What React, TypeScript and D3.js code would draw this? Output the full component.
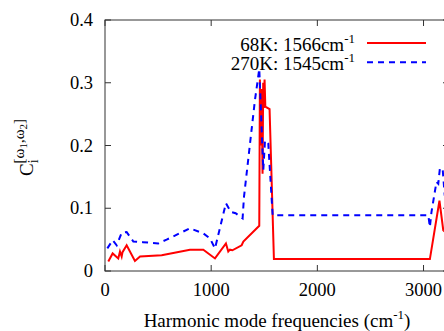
import React from "react";
import * as d3 from "d3";

const W = 444;
const H = 331;

const xTicks = [0, 1000, 2000, 3000];
const yTicks = [0, 0.1, 0.2, 0.3, 0.4];
const yTickLabels = ["0", "0.1", "0.2", "0.3", "0.4"];

const redX = [31, 72, 125, 141, 157, 165, 204, 282, 330, 534, 800, 926, 1036, 1139, 1161, 1177, 1200, 1287, 1303, 1453, 1459, 1466, 1475, 1484, 1490, 1496, 1503, 1510, 1550, 1591, 3060, 3150, 3186, 3220];
const redY = [0.015, 0.028, 0.020, 0.031, 0.023, 0.030, 0.041, 0.016, 0.023, 0.025, 0.034, 0.034, 0.020, 0.044, 0.031, 0.034, 0.033, 0.041, 0.047, 0.072, 0.305, 0.20, 0.29, 0.155, 0.30, 0.26, 0.305, 0.262, 0.258, 0.019, 0.019, 0.112, 0.065, 0.06];

const blueX = [22, 72, 110, 157, 204, 267, 355, 502, 580, 800, 926, 989, 1036, 1139, 1186, 1230, 1296, 1309, 1412, 1453, 1470, 1491, 1507, 1538, 1579, 3045, 3060, 3075, 3122, 3139, 3154, 3180, 3200, 3220];
const blueY = [0.036, 0.049, 0.041, 0.061, 0.062, 0.047, 0.046, 0.044, 0.050, 0.068, 0.060, 0.052, 0.036, 0.108, 0.094, 0.092, 0.084, 0.118, 0.272, 0.322, 0.25, 0.161, 0.208, 0.203, 0.089, 0.089, 0.070, 0.094, 0.142, 0.139, 0.163, 0.163, 0.12, 0.15];

const legendLabels = ["68K: 1566cm", "270K: 1545cm"];

export default function App() {
  const left = 105, right = 449, top = 20, bottom = 271;
  const x = d3.scaleLinear().domain([0, 3240]).range([left, right]);
  const y = d3.scaleLinear().domain([0, 0.4]).range([bottom, top]);
  const line = d3.line<[number, number]>().x((d) => x(d[0])).y((d) => y(d[1]));
  const red: [number, number][] = redX.map((v, i) => [v, redY[i]]);
  const blue: [number, number][] = blueX.map((v, i) => [v, blueY[i]]);
  const font = '"Liberation Serif", "Times New Roman", serif';
  const axisColor = "#333";
  const tl = 6;
  return (
    <svg width={W} height={H} style={{ position: "absolute", left: 0, top: 0, fontFamily: font }}>
      <rect width={W} height={H} fill="#fff" />
      <defs>
        <clipPath id="plot">
          <rect x={left} y={top} width={right - left} height={bottom - top} />
        </clipPath>
      </defs>
      <rect x={left} y={top} width={right - left} height={bottom - top} fill="none" stroke={axisColor} strokeWidth={1} />
      {yTicks.map((t, i) => (
        <g key={"y" + i}>
          <line x1={left} x2={left + tl} y1={y(t)} y2={y(t)} stroke={axisColor} />
          <line x1={right} x2={right - tl} y1={y(t)} y2={y(t)} stroke={axisColor} />
          <text x={93} y={y(t) + 6} textAnchor="end" fontSize={18.5} fill="#000">
            {yTickLabels[i]}
          </text>
        </g>
      ))}
      {xTicks.map((t, i) => (
        <g key={"x" + i}>
          <line x1={x(t)} x2={x(t)} y1={bottom} y2={bottom - tl} stroke={axisColor} />
          <line x1={x(t)} x2={x(t)} y1={top} y2={top + tl} stroke={axisColor} />
          <text x={x(t)} y={296} textAnchor="middle" fontSize={18.5} fill="#000">
            {t}
          </text>
        </g>
      ))}
      <g clipPath="url(#plot)">
        <path d={line(red) || ""} fill="none" stroke="#f00" strokeWidth={2} />
        <path d={line(blue) || ""} fill="none" stroke="#00f" strokeWidth={2} strokeDasharray="6,5" />
      </g>
      {legendLabels.map((lab, i) => (
        <g key={"l" + i}>
          <text x={355} y={50.5 + i * 19} textAnchor="end" fontSize={19} fill="#000">
            {lab}
            <tspan dy={-8} fontSize={13}>-1</tspan>
          </text>
          <line x1={367} x2={426} y1={43 + i * 19.3} y2={43 + i * 19.3} stroke={i === 0 ? "#f00" : "#00f"} strokeWidth={2} strokeDasharray={i === 0 ? undefined : "6,5"} />
        </g>
      ))}
      <text x={(left + right) / 2} y={327} textAnchor="middle" fontSize={19} fill="#000">
        Harmonic mode frequencies (cm
        <tspan dy={-8} fontSize={13}>-1</tspan>
        <tspan dy={8}>)</tspan>
      </text>
      <text transform={`translate(33, 147.5) rotate(-90)`} textAnchor="middle" fontSize={19} fill="#000">
        C
        <tspan dy={5} fontSize={14}>i</tspan>
        <tspan dx={-4} dy={-14} fontSize={15}>[ω</tspan>
        <tspan dy={3} fontSize={11}>1</tspan>
        <tspan dy={-3} fontSize={15}>,ω</tspan>
        <tspan dy={3} fontSize={11}>2</tspan>
        <tspan dy={-3} fontSize={15}>]</tspan>
      </text>
    </svg>
  );
}
